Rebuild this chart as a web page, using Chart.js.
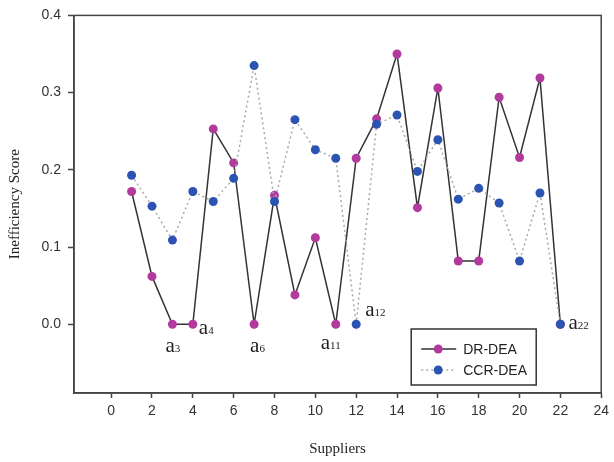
<!DOCTYPE html>
<html>
<head>
<meta charset="utf-8">
<script src="https://cdn.jsdelivr.net/npm/chart.js@4/dist/chart.umd.min.js"></script>
<style>
  html, body { margin: 0; padding: 0; background: #fff; }
  #wrap { width: 614px; height: 462px; }
</style>
</head>
<body>
<div id="wrap"><canvas id="grafico"></canvas></div>
<script>
// Datos
const proveedores = [1, 2, 3, 4, 5, 6, 7, 8, 9, 10, 11, 12, 13, 14, 15, 16, 17, 18, 19, 20, 21, 22];
const drDea = [0.172, 0.062, 0, 0, 0.253, 0.209, 0, 0.167, 0.038, 0.112, 0, 0.215, 0.266, 0.350, 0.151, 0.306, 0.082, 0.082, 0.294, 0.216, 0.319, 0];
const ccrDea = [0.193, 0.153, 0.109, 0.172, 0.159, 0.189, 0.335, 0.159, 0.265, 0.226, 0.215, 0, 0.259, 0.271, 0.198, 0.239, 0.162, 0.176, 0.157, 0.082, 0.170, 0];
const xTicks = [0, 2, 4, 6, 8, 10, 12, 14, 16, 18, 20, 22, 24];
const yTicks = [0, 0.1, 0.2, 0.3, 0.4];
const etiquetas = [
  { x: 3, label: "a", sub: "3", dx: -7, dy: 22 },
  { x: 4, label: "a", sub: "4", dx: 6, dy: 4 },
  { x: 7, label: "a", sub: "6", dx: -4, dy: 22 },
  { x: 11, label: "a", sub: "11", dx: -15, dy: 19 },
  { x: 12, label: "a", sub: "12", dx: 9, dy: -14 },
  { x: 22, label: "a", sub: "22", dx: 8, dy: -1 }
];

const colorDR = "#b23a9c";
const colorCCR = "#2b54b2";

// Marco, etiquetas y leyenda
const extras = {
  id: "extras",
  afterDraw(chart) {
    const ctx = chart.ctx;
    const a = chart.chartArea;
    const sx = chart.scales.x;
    const sy = chart.scales.y;
    ctx.save();
    ctx.strokeStyle = "#444";
    ctx.lineWidth = 1.5;
    ctx.strokeRect(a.left, a.top, a.right - a.left, a.bottom - a.top);

    // etiquetas a_i
    ctx.fillStyle = "#222";
    ctx.textBaseline = "middle";
    ctx.textAlign = "left";
    etiquetas.forEach((e) => {
      const px = sx.getPixelForValue(e.x) + e.dx;
      const py = sy.getPixelForValue(0) + e.dy;
      ctx.font = "21px 'Liberation Serif', serif";
      ctx.fillText(e.label, px, py);
      const w = ctx.measureText(e.label).width;
      ctx.font = "11px 'Liberation Serif', serif";
      ctx.fillText(e.sub, px + w, py + 3);
    });

    // leyenda
    const bx = a.right - 190, by = a.bottom - 64, bw = 125, bh = 56;
    ctx.fillStyle = "#fff";
    ctx.fillRect(bx, by, bw, bh);
    ctx.strokeStyle = "#333";
    ctx.lineWidth = 1.5;
    ctx.strokeRect(bx, by, bw, bh);
    const filas = [
      { texto: "DR-DEA", color: colorDR, linea: "#333", dash: [] },
      { texto: "CCR-DEA", color: colorCCR, linea: "#aaa", dash: [2, 3] }
    ];
    filas.forEach((f, i) => {
      const y = by + 20 + i * 21;
      ctx.strokeStyle = f.linea;
      ctx.setLineDash(f.dash);
      ctx.lineWidth = 1.5;
      ctx.beginPath();
      ctx.moveTo(bx + 10, y);
      ctx.lineTo(bx + 45, y);
      ctx.stroke();
      ctx.setLineDash([]);
      ctx.fillStyle = f.color;
      ctx.beginPath();
      ctx.arc(bx + 27, y, 4.5, 0, Math.PI * 2);
      ctx.fill();
      ctx.fillStyle = "#222";
      ctx.font = "14px 'Liberation Sans', Arial, sans-serif";
      ctx.fillText(f.texto, bx + 52, y + 1);
    });
    ctx.restore();
  }
};

const configGrafico = {
  type: "line",
  data: {
    datasets: [
      {
        label: "DR-DEA",
        data: proveedores.map((p, i) => ({ x: p, y: drDea[i] })),
        borderColor: "#333",
        borderWidth: 1.5,
        backgroundColor: colorDR,
        pointBackgroundColor: colorDR,
        pointBorderColor: colorDR,
        pointRadius: 4.5,
        pointBorderWidth: 0,
        fill: false,
        tension: 0,
        order: 1
      },
      {
        label: "CCR-DEA",
        data: proveedores.map((p, i) => ({ x: p, y: ccrDea[i] })),
        borderColor: "#a8a8a8",
        borderWidth: 1.5,
        borderDash: [2, 3],
        backgroundColor: colorCCR,
        pointBackgroundColor: colorCCR,
        pointBorderColor: colorCCR,
        pointRadius: 4.5,
        pointBorderWidth: 0,
        fill: false,
        tension: 0,
        order: 0
      }
    ]
  },
  options: {
    responsive: true,
    maintainAspectRatio: false,
    animation: false,
    clip: false,
    layout: { padding: { top: 14, right: 6, left: 0, bottom: 0 } },
    plugins: {
      legend: { display: false },
      tooltip: { enabled: false }
    },
    scales: {
      x: {
        type: "linear",
        min: -1.82,
        max: 24,
        afterBuildTicks: (s) => { s.ticks = xTicks.map((v) => ({ value: v })); },
        afterFit: (s) => { s.height = 69; },
        grid: { drawOnChartArea: false, drawTicks: true, tickLength: 5, tickColor: "#444", tickWidth: 1.5 },
        border: { display: true, color: "#444", width: 1.5 },
        ticks: { color: "#333", font: { family: "'Liberation Sans', Arial, sans-serif", size: 14 }, padding: 5, maxRotation: 0 },
        title: { display: true, text: "Suppliers", color: "#222", font: { family: "'Liberation Serif', serif", size: 15 }, padding: { top: 4, bottom: 4 } }
      },
      y: {
        min: -0.089,
        max: 0.4,
        afterBuildTicks: (s) => { s.ticks = yTicks.map((v) => ({ value: v })); },
        afterFit: (s) => { s.width = 74; },
        grid: { drawOnChartArea: false, drawTicks: true, tickLength: 6, tickColor: "#444", tickWidth: 1.5 },
        border: { display: true, color: "#444", width: 1.5 },
        ticks: { color: "#333", font: { family: "'Liberation Sans', Arial, sans-serif", size: 14 }, padding: 7, callback: (v) => v.toFixed(1) },
        title: { display: true, text: "Inefficiency Score", color: "#222", font: { family: "'Liberation Serif', serif", size: 15 }, padding: { top: 6, bottom: 4 } }
      }
    }
  },
  plugins: [extras]
};

new Chart(document.getElementById("grafico").getContext("2d"), configGrafico);
</script>
</body>
</html>
